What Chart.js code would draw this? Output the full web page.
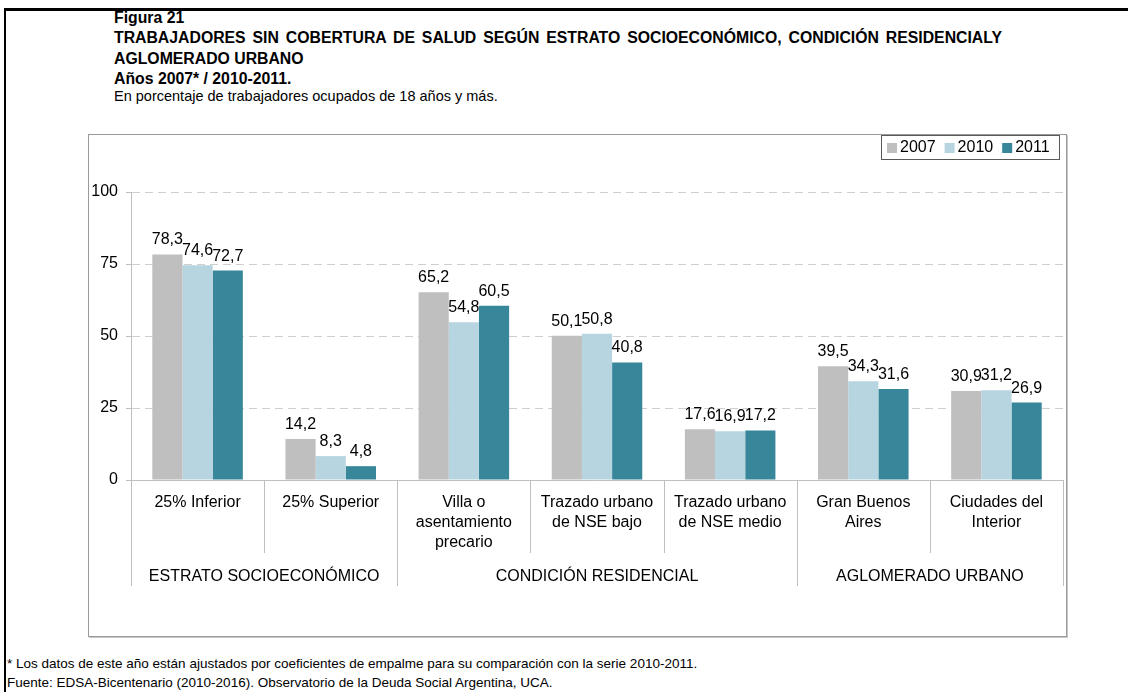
<!DOCTYPE html>
<html>
<head>
<meta charset="utf-8">
<script src="https://cdn.jsdelivr.net/npm/chart.js@4.4.1/dist/chart.umd.min.js"></script>
<style>
  html, body { margin: 0; padding: 0; background: #fff; }
  body { width: 1128px; height: 692px; position: relative; overflow: hidden; font-family: Arial, "Liberation Sans", sans-serif; color: #000; }
  .frame { position: absolute; left: 4px; top: 8px; width: 1200px; height: 800px; border-top: 3px solid #000; border-left: 2px solid #000; }
  .t { position: absolute; left: 114px; white-space: nowrap; line-height: 20px; }
  .b { font-weight: bold; font-size: 15.8px; }
  .just { width: 888px; text-align: justify; text-align-last: justify; }
  .sub { font-size: 14.5px; }
  .foot { position: absolute; left: 7px; white-space: nowrap; font-size: 13.5px; line-height: 19px; }
  .box { position: absolute; left: 88px; top: 134px; width: 977px; height: 501px; border: 1px solid #9a9a9a; box-shadow: 1px 1px 0 #c8c8c8; }
  canvas { display: block; }
</style>
</head>
<body>
<div class="frame"></div>
<div class="t b" style="top:8px">Figura 21</div>
<div class="t b just" style="top:28px">TRABAJADORES SIN COBERTURA DE SALUD SEGÚN ESTRATO SOCIOECONÓMICO, CONDICIÓN RESIDENCIALY</div>
<div class="t b" style="top:49px">AGLOMERADO URBANO</div>
<div class="t b" style="top:69px">Años 2007* / 2010-2011.</div>
<div class="t sub" style="top:86px">En porcentaje de trabajadores ocupados de 18 años y más.</div>
<div class="box"><canvas id="chart" width="977" height="501"></canvas></div>
<div class="foot" style="top:654px">* Los datos de este año están ajustados por coeficientes de empalme para su comparación con la serie 2010-2011.</div>
<div class="foot" style="top:673px">Fuente: EDSA-Bicentenario (2010-2016). Observatorio de la Deuda Social Argentina, UCA.</div>
<script>
const categories = [
  ["25% Inferior"],
  ["25% Superior"],
  ["Villa o", "asentamiento", "precario"],
  ["Trazado urbano", "de NSE bajo"],
  ["Trazado urbano", "de NSE medio"],
  ["Gran Buenos", "Aires"],
  ["Ciudades del", "Interior"]
];
const groups = ["ESTRATO SOCIOECONÓMICO", "CONDICIÓN RESIDENCIAL", "AGLOMERADO URBANO"];
const groupStarts = [0, 2, 5, 7];
const years = ["2007", "2010", "2011"];
const v2007 = [78.3, 14.2, 65.2, 50.1, 17.6, 39.5, 30.9];
const v2010 = [74.6, 8.3, 54.8, 50.8, 16.9, 34.3, 31.2];
const v2011 = [72.7, 4.8, 60.5, 40.8, 17.2, 31.6, 26.9];
const yTicks = [0, 25, 50, 75, 100];
const colors = ["#bfbfbf", "#b7d5e0", "#37869a"];

const FONT = "16px Arial, 'Liberation Sans', sans-serif";

const valueLabels = {
  id: "valueLabels",
  afterDatasetsDraw(chart) {
    const ctx = chart.ctx;
    ctx.save();
    ctx.font = FONT;
    ctx.fillStyle = "#000";
    ctx.textAlign = "center";
    ctx.textBaseline = "alphabetic";
    chart.data.datasets.forEach((ds, i) => {
      chart.getDatasetMeta(i).data.forEach((bar, j) => {
        ctx.fillText(ds.data[j].toFixed(1).replace(".", ","), bar.x, bar.y - 10);
      });
    });
    ctx.restore();
  }
};

const categoryAxis = {
  id: "categoryAxis",
  afterDraw(chart) {
    const ctx = chart.ctx;
    const x = chart.scales.x;
    const area = chart.chartArea;
    const step = (x.right - x.left) / categories.length;
    ctx.save();
    ctx.strokeStyle = "#bfbfbf";
    ctx.lineWidth = 1;
    for (let i = 0; i <= categories.length; i++) {
      const px = Math.round(x.left + i * step) + 0.5;
      const bottom = groupStarts.includes(i) ? 451 : 418;
      ctx.beginPath();
      ctx.moveTo(px, area.bottom);
      ctx.lineTo(px, bottom);
      ctx.stroke();
    }
    ctx.font = FONT;
    ctx.fillStyle = "#000";
    ctx.textAlign = "center";
    ctx.textBaseline = "middle";
    categories.forEach((lines, i) => {
      const cx = x.getPixelForValue(i);
      lines.forEach((line, k) => ctx.fillText(line, cx, 368 + k * 20));
    });
    groups.forEach((g, i) => {
      const cx = x.left + (groupStarts[i] + groupStarts[i + 1]) / 2 * step;
      ctx.fillText(g, cx, 442);
    });

    // legend box
    ctx.textAlign = "left";
    let lx = 798;
    const items = chart.data.datasets.map(ds => ({ label: ds.label, color: ds.backgroundColor }));
    const widths = items.map(it => ctx.measureText(it.label).width);
    items.forEach((it, i) => {
      ctx.fillStyle = it.color;
      ctx.fillRect(lx, 8, 10, 10);
      ctx.fillStyle = "#000";
      ctx.fillText(it.label, lx + 13, 13);
      lx += 13 + widths[i] + 9;
    });
    ctx.strokeStyle = "#595959";
    ctx.strokeRect(792.5, 0.5, 178, 24);
    ctx.restore();
  }
};

new Chart(document.getElementById("chart"), {
  type: "bar",
  data: {
    labels: categories.map(c => c.join(" ")),
    datasets: [
      { label: years[0], data: v2007, backgroundColor: colors[0] },
      { label: years[1], data: v2010, backgroundColor: colors[1] },
      { label: years[2], data: v2011, backgroundColor: colors[2] }
    ]
  },
  options: {
    responsive: false,
    animation: false,
    layout: { padding: { top: 57, right: 3, left: 0, bottom: 0 } },
    datasets: { bar: { categoryPercentage: 0.68, barPercentage: 1.0 } },
    plugins: {
      legend: { display: false },
      tooltip: { enabled: false }
    },
    scales: {
      x: {
        ticks: { display: false },
        grid: { display: false },
        border: { color: "#bfbfbf" },
        afterFit: (s) => { s.height = 156; }
      },
      y: {
        min: 0,
        max: 100,
        afterBuildTicks: (s) => { s.ticks = yTicks.map(v => ({ value: v })); },
        ticks: { color: "#000", font: { size: 16, family: "Arial, 'Liberation Sans', sans-serif" }, padding: 8 },
        grid: { color: "#cfcfcf", tickColor: "#bfbfbf", tickLength: 5, tickBorderDash: [] },
        border: { color: "#bfbfbf", dash: [8, 5] },
        afterFit: (s) => { s.width = 42; }
      }
    }
  },
  plugins: [valueLabels, categoryAxis]
});
</script>
</body>
</html>
